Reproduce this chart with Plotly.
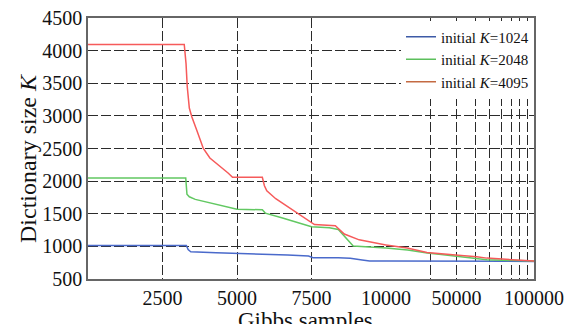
import plotly.graph_objects as go

# ---------------- data ----------------
series_names = ["initial <i>K</i>=1024", "initial <i>K</i>=2048", "initial <i>K</i>=4095"]

blue_x = [0, 3300, 3360, 3450, 4300, 5000, 6200, 6700, 7400, 7550, 8400, 8800, 9200, 9450, 10000, 30000, 100000]
blue_y = [1015, 1015, 950, 918, 903, 893, 883, 868, 853, 827, 827, 817, 790, 775, 775, 775, 770]

green_x = [0, 3280, 3320, 3400, 3600, 4000, 4500, 5000, 5850, 5950, 6500, 7000, 7500, 8100, 8400, 8900,
           9500, 10000, 14000, 19000, 30000, 48000, 100000]
green_y = [2048, 2048, 1800, 1760, 1720, 1680, 1620, 1570, 1560, 1510, 1440, 1370, 1300, 1285, 1260, 1005,
           990, 975, 945, 900, 845, 795, 775]

red_x = [0, 3230, 3290, 3330, 3400, 3480, 3650, 3870, 4090, 4430, 4700, 4850, 5850, 5920, 6000, 6300, 6800,
         7300, 7600, 8300, 8600, 9100, 10000, 13900, 18900, 30000, 41000, 48000, 71000, 100000]
red_y = [4095, 4095, 3800, 3450, 3120, 2990, 2780, 2500, 2355, 2230, 2125, 2060, 2060, 1930, 1850, 1730, 1580,
         1430, 1335, 1315, 1190, 1100, 1020, 975, 905, 870, 840, 820, 800, 775]

line_colors = ["#4a6acb", "#62c862", "#f65a5a"]
legend_colors = ["#3d5aa6", "#5cbf5c", "#c46a42"]

lin_ticks = [2500, 5000, 7500, 10000]
lin_ticktext = ["2500", "5000", "7500", "10000"]
log_ticks = [20000, 30000, 40000, 50000, 60000, 70000, 80000, 90000, 100000]
log_ticktext = ["", "50000", "", "", "", "", "", "", "100000"]
y_ticks = [500, 1000, 1500, 2000, 2500, 3000, 3500, 4000, 4500]

SPLIT = 10000
FONT = "Liberation Serif, Times New Roman, serif"
GRID = dict(showgrid=True, gridcolor="#2b2b2b", gridwidth=1.4, griddash="10px,3px")
AXLINE = dict(showline=True, linecolor="#666666", linewidth=1.6, automargin=False)

fig = go.Figure()
all_series = [(blue_x, blue_y), (green_x, green_y), (red_x, red_y)]
for (xs, ys), col in zip(all_series, line_colors):
    lx = [x for x in xs if x <= SPLIT]
    ly = [y for x, y in zip(xs, ys) if x <= SPLIT]
    gx = [x for x in xs if x >= SPLIT]
    gy = [y for x, y in zip(xs, ys) if x >= SPLIT]
    fig.add_trace(go.Scatter(x=lx, y=ly, mode="lines", line=dict(color=col, width=1.5),
                             showlegend=False, xaxis="x", yaxis="y"))
    fig.add_trace(go.Scatter(x=gx, y=gy, mode="lines", line=dict(color=col, width=1.5),
                             showlegend=False, xaxis="x2", yaxis="y2"))

for name, col in zip(series_names, legend_colors):
    fig.add_trace(go.Scatter(x=[None], y=[None], mode="lines", name=name,
                             line=dict(color=col, width=1.5), xaxis="x", yaxis="y"))

split_frac = 298 / 446

fig.update_layout(
    width=564, height=324,
    margin=dict(l=88, r=30, t=18, b=45),
    paper_bgcolor="white", plot_bgcolor="white",
    font=dict(family=FONT, size=20, color="#111111"),
    xaxis=dict(domain=[0, split_frac], range=[0, SPLIT], tickvals=lin_ticks, ticktext=lin_ticktext,
               ticks="", mirror=True, zeroline=False, anchor="y", **GRID, **AXLINE),
    xaxis2=dict(domain=[split_frac, 1], type="log", range=[4, 5], tickvals=log_ticks,
                ticktext=log_ticktext, ticks="", mirror=True, zeroline=False, anchor="y2",
                **GRID, **AXLINE),
    yaxis=dict(range=[500, 4500], tickvals=y_ticks, ticks="", zeroline=False, anchor="x",
               **GRID, **AXLINE),
    yaxis2=dict(matches="y", range=[500, 4500], tickvals=y_ticks, showticklabels=False, ticks="",
                zeroline=False, anchor="x2", side="right", **GRID, **AXLINE),
    legend=dict(x=1, y=0.99, xanchor="right", yanchor="top", bgcolor="white", borderwidth=0,
                font=dict(family=FONT, size=15, color="#111111"), tracegroupgap=0),
    annotations=[
        dict(text="Gibbs samples", xref="paper", yref="paper", x=(305 - 88) / 446, y=-(320 - 279) / 261,
             xanchor="center", yanchor="middle", showarrow=False, font=dict(family=FONT, size=23)),
        dict(text="Dictionary size <i>K</i>", xref="paper", yref="paper", x=-(88 - 28) / 446,
             y=(279 - 158) / 261, xanchor="center", yanchor="middle", textangle=-90, showarrow=False,
             font=dict(family=FONT, size=24)),
    ],
)

fig.write_html("out.html", config={"displayModeBar": False},
               post_script="document.body.style.margin='0';document.body.style.padding='0';")
